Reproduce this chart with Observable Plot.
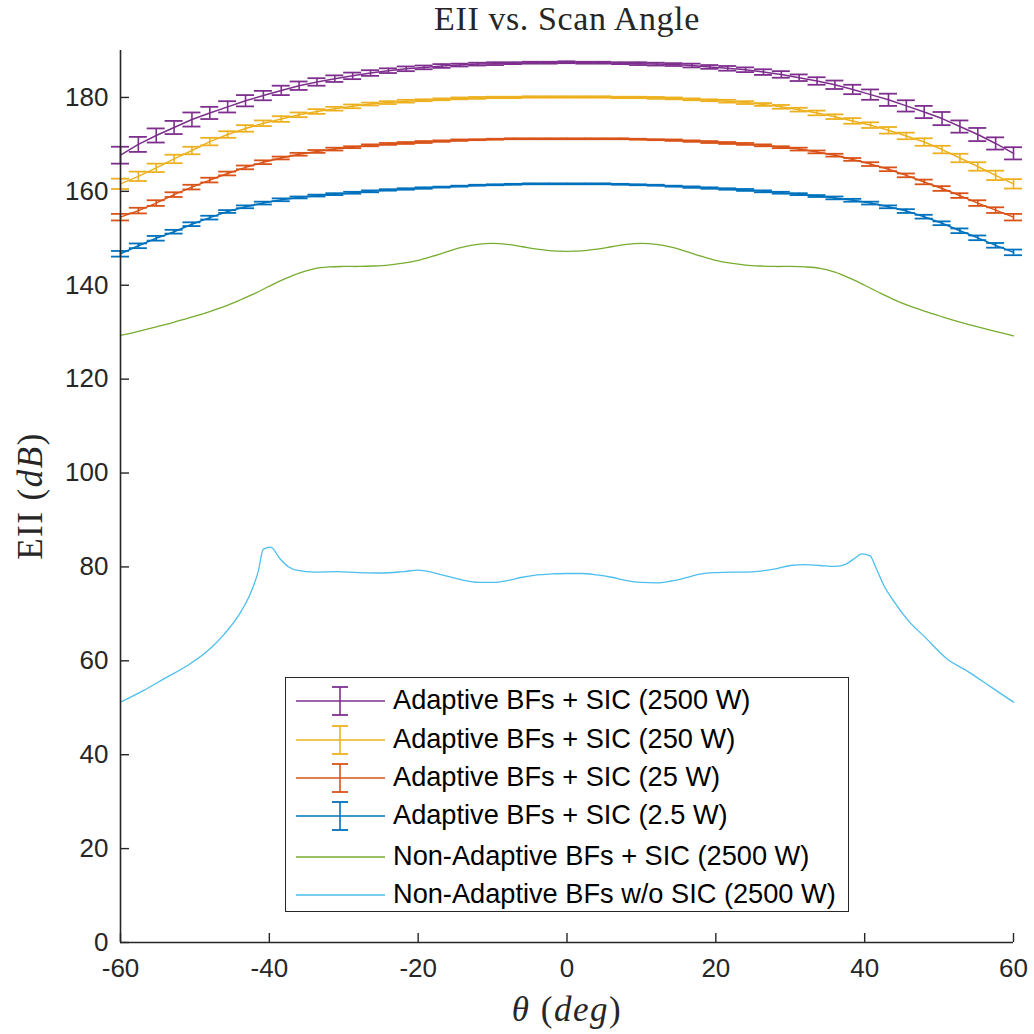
<!DOCTYPE html>
<html><head><meta charset="utf-8">
<script src="https://cdn.jsdelivr.net/npm/d3@7"></script>
<script src="https://cdn.jsdelivr.net/npm/@observablehq/plot@0.6"></script>
<style>
body{margin:0;background:#fff;}
#wrap{position:relative;width:1034px;height:1034px;overflow:hidden;}
.ov{position:absolute;font-family:"Liberation Serif",serif;color:#262626;white-space:nowrap;}
#title{left:0;top:0px;text-align:center;font-size:34px;letter-spacing:0.6px;width:1034px;padding-left:100px;box-sizing:border-box;}
#xlab{left:0;width:1034px;padding-left:100px;box-sizing:border-box;text-align:center;top:990px;font-size:35px;letter-spacing:1.5px;}
#ylab{left:31px;top:496px;font-size:35px;letter-spacing:1.5px;transform:translate(-50%,-50%) rotate(-90deg);}
#legend{position:absolute;left:285px;top:677px;width:564px;height:235px;border:1.3px solid #262626;background:#fff;box-sizing:border-box;font-family:"Liberation Sans",Arial,sans-serif;font-size:27.2px;color:#000;}
.row{position:absolute;left:0;height:38px;width:100%;}
.row svg{position:absolute;left:8px;top:0;}
.row span{position:absolute;left:107px;top:50%;transform:translateY(-53%);}
</style></head><body><div id="wrap"></div>
<script>
const theta = [-60,-57.6,-55.2,-52.8,-50.4,-48,-45.6,-43.2,-40.8,-38.4,-36,-33.6,-31.2,-28.8,-26.4,-24,-21.6,-19.2,-16.8,-14.4,-12,-9.6,-7.2,-4.8,-2.4,0,2.4,4.8,7.2,9.6,12,14.4,16.8,19.2,21.6,24,26.4,28.8,31.2,33.6,36,38.4,40.8,43.2,45.6,48,50.4,52.8,55.2,57.6,60];

const names = ["Adaptive BFs + SIC (2500 W)","Adaptive BFs + SIC (250 W)","Adaptive BFs + SIC (25 W)","Adaptive BFs + SIC (2.5 W)","Non-Adaptive BFs + SIC (2500 W)","Non-Adaptive BFs w/o SIC (2500 W)"];
const colors = ["#7E2F8E","#EDB120","#D95319","#0072BD","#77AC30","#4DBEEE"];

const adapt2500 = [167.7,170.0,171.9,173.6,175.3,176.7,178.0,179.3,180.4,181.5,182.5,183.3,184.0,184.6,185.2,185.7,186.1,186.4,186.7,186.9,187.1,187.2,187.3,187.4,187.4,187.5,187.4,187.4,187.3,187.2,187.1,187.0,186.8,186.5,186.2,185.9,185.4,184.9,184.2,183.5,182.7,181.7,180.6,179.5,178.2,176.9,175.5,173.8,172.1,170.2,168.1];
const adapt2500Err = [1.8,1.6,1.5,1.4,1.5,1.3,1.2,1.2,1.0,1.0,0.9,0.8,0.7,0.7,0.6,0.5,0.5,0.4,0.4,0.3,0.3,0.3,0.2,0.2,0.2,0.2,0.2,0.2,0.2,0.3,0.3,0.3,0.4,0.4,0.5,0.5,0.6,0.7,0.7,0.8,0.9,1.0,1.1,1.3,1.2,1.3,1.4,1.3,1.4,1.3,1.3];

const adapt250 = [161.6,163.2,165.0,166.9,168.7,170.6,172.1,173.4,174.5,175.4,176.3,177.0,177.6,178.1,178.6,178.9,179.2,179.4,179.6,179.8,179.9,180.0,180.0,180.1,180.1,180.1,180.1,180.1,180.0,180.0,179.9,179.8,179.6,179.4,179.2,178.9,178.5,178.0,177.4,176.7,175.9,175.0,174.1,173.0,171.8,170.5,168.9,167.1,165.3,163.4,161.6];
const adapt250Err = [1.1,1.0,0.9,0.9,0.8,0.8,0.7,0.7,0.6,0.6,0.5,0.5,0.4,0.4,0.3,0.3,0.3,0.2,0.2,0.2,0.2,0.15,0.15,0.15,0.15,0.15,0.15,0.15,0.15,0.15,0.2,0.2,0.2,0.2,0.3,0.3,0.3,0.4,0.4,0.5,0.5,0.6,0.6,0.7,0.7,0.8,0.8,0.9,0.9,1.0,1.0];

const adapt25 = [154.5,155.9,157.5,159.3,160.9,162.4,163.8,165.1,166.2,167.1,167.9,168.5,169.0,169.4,169.8,170.1,170.3,170.5,170.7,170.9,171.0,171.1,171.2,171.2,171.2,171.2,171.2,171.2,171.2,171.1,171.0,170.9,170.7,170.5,170.3,170.1,169.8,169.4,169.0,168.4,167.7,166.8,165.8,164.7,163.4,162.0,160.6,159.1,157.5,156.0,154.5];
const adapt25Err = [0.7,0.6,0.6,0.5,0.5,0.5,0.4,0.4,0.4,0.3,0.3,0.3,0.3,0.2,0.2,0.2,0.2,0.2,0.15,0.15,0.1,0.1,0.1,0.1,0.1,0.1,0.1,0.1,0.1,0.1,0.1,0.15,0.15,0.2,0.2,0.2,0.2,0.2,0.3,0.3,0.3,0.3,0.4,0.4,0.4,0.5,0.5,0.5,0.6,0.6,0.7];

const adapt2p5 = [146.7,148.4,150.0,151.4,153.0,154.4,155.7,156.7,157.5,158.2,158.7,159.1,159.4,159.7,160.0,160.3,160.5,160.7,160.9,161.1,161.3,161.4,161.5,161.6,161.6,161.6,161.6,161.6,161.5,161.4,161.3,161.1,160.9,160.7,160.5,160.3,160.0,159.7,159.4,159.0,158.6,158.1,157.5,156.7,155.8,154.6,153.2,151.6,150.1,148.5,147.0];
const adapt2p5Err = [0.6,0.5,0.5,0.4,0.4,0.4,0.3,0.3,0.3,0.3,0.2,0.2,0.2,0.2,0.2,0.15,0.15,0.15,0.1,0.1,0.1,0.1,0.1,0.1,0.1,0.1,0.1,0.1,0.1,0.1,0.1,0.1,0.15,0.15,0.15,0.2,0.2,0.2,0.2,0.2,0.3,0.3,0.3,0.3,0.4,0.4,0.4,0.5,0.5,0.5,0.6];

const thetaNA = [-60,-58,-56,-54,-52,-50,-48,-46,-44,-42,-40,-38,-36,-34,-32,-30,-28,-26,-24,-22,-20,-18,-16,-14,-12,-10,-8,-6,-4,-2,0,2,4,6,8,10,12,14,16,18,20,22,24,26,28,30,32,34,36,38,40,42,44,46,48,50,52,54,56,58,60];
const nonAdaptSIC = [129.3,130.0,130.8,131.6,132.5,133.4,134.4,135.5,136.8,138.2,139.8,141.3,142.6,143.5,143.9,144.0,144.0,144.1,144.3,144.7,145.3,146.2,147.2,148.1,148.7,148.9,148.7,148.2,147.7,147.3,147.2,147.3,147.7,148.2,148.7,148.9,148.7,148.1,147.2,146.2,145.3,144.7,144.3,144.1,144.0,144.0,143.9,143.6,142.8,141.5,140.0,138.4,136.9,135.6,134.5,133.5,132.5,131.6,130.8,130.0,129.2];

const thetaNoSIC = [-60,-57,-54,-51,-48,-46,-44,-42.5,-41.5,-40.8,-39.8,-38.6,-37.4,-36,-34,-31,-28,-25,-22,-20,-18,-16,-14,-12,-10,-8,-6,-4,-2,0,2,4,6,8,10,12,14,16,18,20,22,24,26,28,30,32,34,36,37.5,38.8,39.6,40.7,41.6,42.6,44,46,48,51,54,57,60];
const nonAdaptNoSIC = [51.2,53.6,56.3,59.0,62.5,65.8,70.0,74.5,79.0,83.8,84.2,81.8,80.0,79.2,78.9,79.0,78.8,78.7,79.0,79.3,78.8,78.0,77.2,76.7,76.7,77.1,77.8,78.3,78.5,78.6,78.6,78.3,77.8,77.1,76.7,76.6,77.0,77.7,78.5,78.8,78.9,78.9,79.1,79.6,80.3,80.5,80.3,80.1,80.6,82.0,82.8,82.4,79.5,76.0,72.5,68.3,65.2,60.5,57.6,54.4,51.2];

const xTicks = [-60,-40,-20,0,20,40,60];
const yTicks = [0,20,40,60,80,100,120,140,160,180];

const ebSeries = [[adapt2500,adapt2500Err],[adapt250,adapt250Err],[adapt25,adapt25Err],[adapt2p5,adapt2p5Err]];
const ebRows = ebSeries.flatMap(([v,e],k) => theta.map((t,i) => ({s:names[k], x:t, y:v[i], lo:v[i]-e[i], hi:v[i]+e[i]})));
const naRows = thetaNA.map((t,i)=>({s:names[4], x:t, y:nonAdaptSIC[i]}));
const nsRows = thetaNoSIC.map((t,i)=>({s:names[5], x:t, y:nonAdaptNoSIC[i]}));

const W = 1034, H = 1034, mL = 120, mR = 21, mT = 50, mB = 92;
const axisColor = "#262626";

const chart = Plot.plot({
  width: W, height: H,
  marginLeft: mL, marginRight: mR, marginTop: mT, marginBottom: mB,
  style: {fontFamily: "'Liberation Sans', Arial, sans-serif", fontSize: "26px", color: axisColor, background: "#fff", overflow: "visible"},
  x: {domain: [-60, 60], label: null},
  y: {domain: [0, 190], label: null},
  color: {domain: names, range: colors},
  marks: [
    Plot.line(nsRows, {x: "x", y: "y", stroke: "s", strokeWidth: 1.3, curve: "monotone-x"}),
    Plot.line(naRows, {x: "x", y: "y", stroke: "s", strokeWidth: 1.3, curve: "catmull-rom"}),
    Plot.line(ebRows, {x: "x", y: "y", z: "s", stroke: "s", strokeWidth: 1.5}),
    Plot.ruleX(ebRows, {x: "x", y1: "lo", y2: "hi", stroke: "s", strokeWidth: 1.6}),
    Plot.ruleY(ebRows, {y: "lo", x1: "x", x2: "x", insetLeft: -9, insetRight: -9, stroke: "s", strokeWidth: 1.8}),
    Plot.ruleY(ebRows, {y: "hi", x1: "x", x2: "x", insetLeft: -9, insetRight: -9, stroke: "s", strokeWidth: 1.8}),
    Plot.ruleX([-60], {stroke: axisColor, strokeWidth: 1.6}),
    Plot.ruleY([0], {stroke: axisColor, strokeWidth: 1.6}),
    Plot.tickY(yTicks, {y: d => d, insetRight: (W - mL - mR) - 9, stroke: axisColor, strokeWidth: 1.4}),
    Plot.tickX(xTicks, {x: d => d, insetTop: (H - mT - mB) - 9, stroke: axisColor, strokeWidth: 1.4}),
    Plot.axisY(yTicks, {tickSize: 0, tickPadding: 12, fill: axisColor, tickFormat: d => String(d)}),
    Plot.axisX(xTicks, {tickSize: 0, tickPadding: 16, fill: axisColor, tickFormat: d => String(d)})
  ]
});

const wrap = document.getElementById("wrap");
wrap.appendChild(chart);

function addDiv(id, html){ const d = document.createElement("div"); d.id = id; d.className = "ov"; d.innerHTML = html; wrap.appendChild(d); return d; }
addDiv("title", "EII vs. Scan Angle");
addDiv("xlab", "<i>θ</i> (<i>deg</i>)");
addDiv("ylab", "EII (<i>dB</i>)");

const legend = document.createElement("div");
legend.id = "legend";
const rowTops = [4, 43, 81, 119, 160, 198];
names.forEach((n, k) => {
  const r = document.createElement("div");
  r.className = "row";
  r.style.top = rowTops[k] + "px";
  const eb = k < 4 ? `<line x1="46" x2="46" y1="5" y2="33" stroke="${colors[k]}" stroke-width="1.6"/><line x1="38" x2="54" y1="5" y2="5" stroke="${colors[k]}" stroke-width="1.8"/><line x1="38" x2="54" y1="33" y2="33" stroke="${colors[k]}" stroke-width="1.8"/>` : "";
  r.innerHTML = `<svg width="96" height="38"><line x1="2" x2="91" y1="19" y2="19" stroke="${colors[k]}" stroke-width="1.5"/>${eb}</svg><span>${n}</span>`;
  legend.appendChild(r);
});
wrap.appendChild(legend);
</script>
</body></html>
